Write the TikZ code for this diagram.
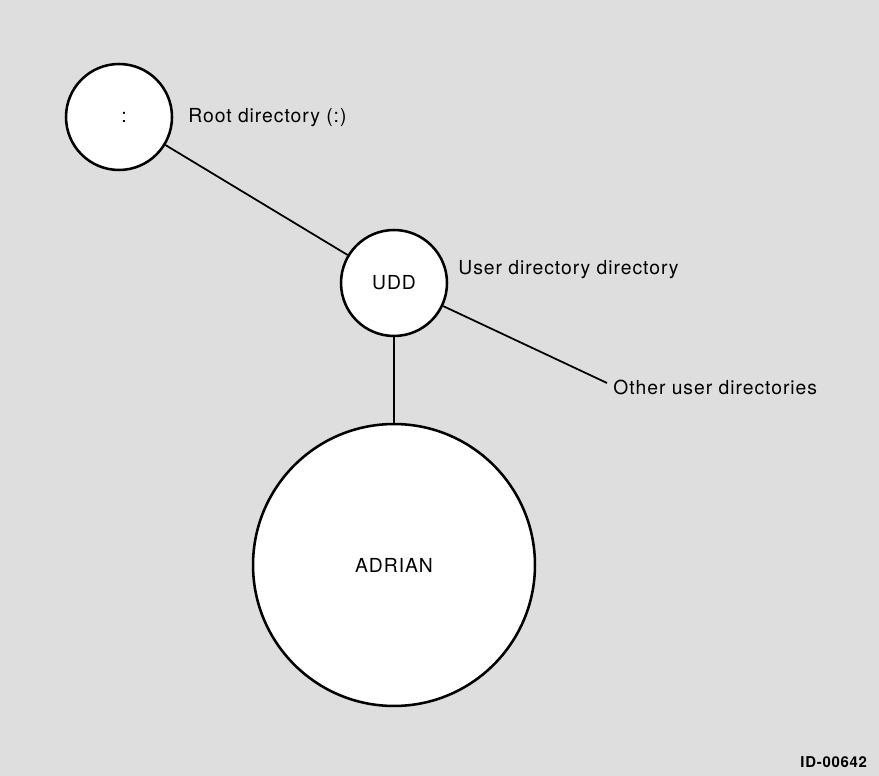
\documentclass[tikz,border=0pt]{standalone}
\usepackage{fontspec}
\setmainfont{TeX Gyre Heros}[LetterSpace=5]
\usetikzlibrary{positioning}
\definecolor{scanGray}{HTML}{DEDEDE}
\tikzset{
  dirnode/.style={
    circle, draw=black, line width=1.45pt, fill=white,
    minimum size=#1, inner sep=0pt,
    font=\fontsize{11}{13}\selectfont
  },
  dirlabel/.style={anchor=base west, inner sep=0pt, font=\fontsize{11}{13}\selectfont},
  figid/.style={anchor=base west, inner sep=0pt, font=\fontsize{8.5}{10}\selectfont\bfseries},
  link/.style={line width=1pt}
}

\begin{document}
\begin{tikzpicture}[x=0.02cm, y=-0.02cm]

% Background
\fill[scanGray] (0,0) rectangle (879,776);

% Directory circles
\node[dirnode=2.12cm] (root) at (119,117) {\hspace{0.2cm}:};
\node[dirnode=2.12cm] (udd) at (394,283) {UDD};
\node[dirnode=5.64cm] (adrian) at (394,565) {ADRIAN\hspace{0.2cm}};

% Connections
\coordinate (othersend) at (607,383);
\draw[link] (root) -- (udd);
\draw[link] (udd) -- (adrian);
\draw[link] (udd) -- (othersend);

% Labels
\node[dirlabel] (rootlbl) at (188,123) {Root directory (:)};
\node[dirlabel] (uddlbl) at (458,275) {User directory directory};
\node[dirlabel] (otherlbl) at (613,395) {Other user directories};
\node[figid] (figno) at (800,767) {ID-00642};

\end{tikzpicture}
\end{document}
